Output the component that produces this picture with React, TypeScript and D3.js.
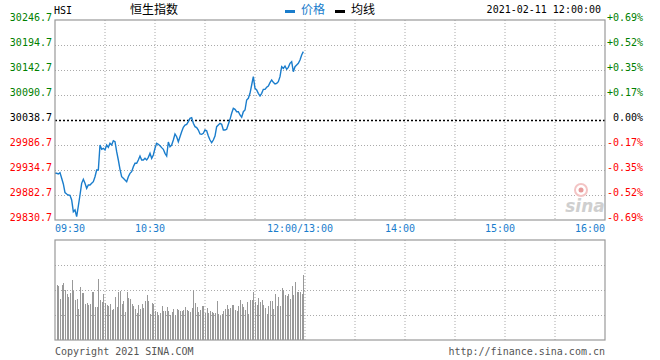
import React, { useEffect, useRef } from 'react'
import * as d3 from 'd3'

// HSI intraday, 2021-02-11, one value per minute from 09:30
const prevClose = 30038.7
const prices = [
    29927.8, 29927.8, 29926.4, 29929.2, 29917.4, 29905.6, 29887.6, 29884.8, 29882.7, 29882.0,
    29872.3, 29848.0, 29851.5, 29837.6, 29859.8, 29882.7, 29907.0, 29915.3, 29907.0, 29896.6,
    29903.5, 29903.5, 29907.0, 29910.4, 29920.8, 29934.7, 29934.7, 29986.7, 29977.7, 29979.8,
    29976.3, 29986.7, 29981.9, 29990.2, 29986.7, 29995.7, 29993.6, 29972.8, 29955.5, 29936.1,
    29920.8, 29917.4, 29913.9, 29910.4, 29920.8, 29927.8, 29931.2, 29941.6, 29948.6, 29948.6,
    29955.5, 29963.8, 29955.5, 29955.5, 29959.0, 29955.5, 29961.1, 29969.4, 29959.0, 29965.9,
    29979.8, 29990.2, 29988.1, 29985.3, 29981.2, 29977.7, 29969.4, 29963.8, 29992.9, 29983.2,
    29986.7, 29997.1, 30009.6, 30004.0, 29993.6, 30004.0, 30014.4, 30023.5, 30028.3, 30029.7,
    30035.2, 30042.2, 30043.6, 30031.8, 30024.8, 30022.8, 30017.9, 30009.6, 30008.9, 30011.0,
    30017.9, 30016.5, 30005.4, 29997.1, 29991.6, 29997.1, 30005.4, 30024.8, 30028.3, 30031.8,
    30029.7, 30017.9, 30017.9, 30019.3, 30029.7, 30040.1, 30052.6, 30063.0, 30060.9, 30056.0,
    30056.0, 30049.1, 30044.3, 30056.0, 30059.5, 30080.3, 30083.8, 30094.2, 30111.5, 30128.8,
    30104.6, 30101.1, 30094.2, 30088.6, 30094.2, 30102.5, 30102.5, 30106.7, 30109.4, 30116.4,
    30121.9, 30117.0, 30113.6, 30115.0, 30118.4, 30128.8, 30149.6, 30146.2, 30151.0, 30144.1,
    30148.2, 30156.6, 30160.0, 30139.2, 30149.6, 30153.1, 30156.6, 30163.5, 30173.9, 30180.8
]
// volume per minute from 09:31 (relative units, 100 = top of panel)
const volumes = [
    55, 54, 41, 55, 57, 50, 46, 43, 47, 60, 49, 40, 41, 31, 53, 47, 47, 36, 37, 35,
    36, 48, 48, 33, 33, 61, 40, 38, 46, 37, 35, 34, 36, 30, 31, 43, 33, 48, 49, 36,
    39, 28, 48, 42, 41, 36, 34, 31, 27, 35, 31, 36, 32, 39, 45, 39, 26, 37, 36, 29,
    28, 25, 27, 34, 29, 29, 33, 29, 25, 28, 31, 25, 31, 30, 29, 29, 30, 33, 30, 29,
    28, 32, 50, 37, 33, 28, 30, 34, 34, 27, 32, 27, 29, 28, 27, 27, 39, 26, 24, 26,
    29, 31, 35, 31, 32, 35, 35, 30, 29, 34, 40, 36, 33, 30, 38, 26, 40, 40, 48, 38,
    35, 42, 38, 40, 35, 32, 26, 34, 39, 39, 31, 46, 34, 43, 34, 52, 50, 45, 44, 46,
    41, 54, 45, 58, 48, 48, 48, 46, 65
]
const priceTicks = [30246.7, 30194.7, 30142.7, 30090.7, 30038.7, 29986.7, 29934.7, 29882.7, 29830.7]
const timeTicks = [0, 60, 150, 210, 270, 330]
const timeLabels = ['09:30', '10:30', '12:00/13:00', '14:00', '15:00', '16:00']

const mono = '"DejaVu Sans Mono", monospace'
const cjk = '"Noto Sans CJK SC", sans-serif'

export default function App() {
    const ref = useRef<HTMLDivElement>(null)

    useEffect(() => {
        const root = d3.select(ref.current)
        root.selectAll('*').remove()

        const svg = root.append('svg')
            .attr('width', 660)
            .attr('height', 360)
            .style('display', 'block')

        const left = 55, right = 605
        const top = 20, bottom = 220
        const vTop = 240, vBottom = 340

        const x = d3.scaleLinear().domain([0, 330]).range([left, right])
        const y = d3.scaleLinear().domain([29830.7, 30246.7]).range([bottom, top])
        const yv = d3.scaleLinear().domain([0, 100]).range([vBottom, vTop])

        const gridColor = '#aaa'
        const tickColor = (v: number) => v > prevClose + 0.01 ? '#008000' : (v < prevClose - 0.01 ? '#ff0000' : '#000')

        // vertical grid
        const vgrid = d3.range(30, 330, 30)
        for (const [y0, y1] of [[top, bottom], [vTop, vBottom]]) {
            svg.append('g').selectAll('line').data(vgrid).join('line')
                .attr('x1', d => x(d)).attr('x2', d => x(d))
                .attr('y1', y0).attr('y2', y1)
                .attr('stroke', gridColor)
                .attr('stroke-dasharray', '1 2')
        }

        // horizontal grid (price)
        svg.append('g').selectAll('line').data(priceTicks.filter(d => d !== prevClose && d !== priceTicks[0] && d !== priceTicks[8])).join('line')
            .attr('x1', left).attr('x2', right)
            .attr('y1', d => Math.round(y(d)) + 0.5).attr('y2', d => Math.round(y(d)) + 0.5)
            .attr('stroke', gridColor)
            .attr('stroke-dasharray', '1 2')

        svg.append('line')
            .attr('x1', left).attr('x2', right)
            .attr('y1', Math.round(y(prevClose)) + 0.5).attr('y2', Math.round(y(prevClose)) + 0.5)
            .attr('stroke', '#000')
            .attr('stroke-width', 1.3)
            .attr('stroke-dasharray', '2 2')

        // volume grid
        svg.append('g').selectAll('line').data([25, 50, 75]).join('line')
            .attr('x1', left).attr('x2', right)
            .attr('y1', d => yv(d) + 0.5).attr('y2', d => yv(d) + 0.5)
            .attr('stroke', gridColor)
            .attr('stroke-dasharray', '1 2')

        // sina watermark
        const wm = svg.append('g').attr('transform', 'translate(585,200)')
        wm.append('circle').attr('cx', -4).attr('cy', -10).attr('r', 6).attr('fill', 'none')
            .attr('stroke', '#f3c4c4').attr('stroke-width', 2)
        wm.append('circle').attr('cx', -4).attr('cy', -10).attr('r', 2.5).attr('fill', '#e89a9a')
        wm.append('text').attr('x', 0).attr('y', 12).attr('text-anchor', 'middle')
            .style('font', 'italic bold 17px "DejaVu Sans", sans-serif')
            .attr('fill', '#cfcfcf').text('sina')

        // volume bars
        svg.append('g').selectAll('rect').data(volumes).join('rect')
            .attr('x', (d, i) => Math.round(x(i + 1)))
            .attr('width', 1)
            .attr('y', d => Math.round(yv(d)))
            .attr('height', d => vBottom - Math.round(yv(d)))
            .attr('fill', '#999')
            .attr('shape-rendering', 'crispEdges')

        // price line
        const line = d3.line<number>()
            .x((d, i) => x(i))
            .y(d => y(d))
        svg.append('path')
            .datum(prices)
            .attr('d', line)
            .attr('fill', 'none')
            .attr('stroke', '#1a7dcc')
            .attr('stroke-width', 1.4)

        // frames
        for (const [y0, y1] of [[top, bottom], [vTop, vBottom]]) {
            svg.append('rect')
                .attr('x', left).attr('y', y0)
                .attr('width', right - left).attr('height', y1 - y0)
                .attr('fill', 'none')
                .attr('stroke', '#999')
                .attr('stroke-width', 1.2)
        }

        // price labels
        svg.append('g').selectAll('text').data(priceTicks).join('text')
            .attr('x', 52)
            .attr('y', d => y(d) - 3)
            .attr('dy', '0.35em')
            .attr('text-anchor', 'end')
            .attr('fill', tickColor)
            .style('font', '10px ' + mono)
            .text(d => d.toFixed(1))

        svg.append('g').selectAll('text').data(priceTicks).join('text')
            .attr('x', 607)
            .attr('y', d => y(d) - 3)
            .attr('dy', '0.35em')
            .attr('fill', tickColor)
            .style('font', '10px ' + mono)
            .style('white-space', 'pre')
            .text(d => {
                const p = (d - prevClose) / prevClose * 100
                const s = Math.abs(p).toFixed(2) + '%'
                if (Math.abs(p) < 0.001) return '\u00a0' + s
                return (p > 0 ? '+' : '-') + s
            })

        // time labels
        svg.append('g').selectAll('text').data(timeTicks).join('text')
            .attr('x', (d, i) => i === 0 ? left : (i === timeTicks.length - 1 ? right : x(d) - 5))
            .attr('y', 228)
            .attr('dy', '0.35em')
            .attr('text-anchor', (d, i) => i === 0 ? 'start' : (i === timeTicks.length - 1 ? 'end' : 'middle'))
            .attr('fill', '#1a7dcc')
            .style('font', '10px ' + mono)
            .text((d, i) => timeLabels[i])

        // header
        svg.append('text').attr('x', 54).attr('y', 10).attr('dy', '0.35em')
            .style('font', '10px ' + mono).text('HSI')
        svg.append('text').attr('x', 154).attr('y', 10).attr('dy', '0.35em')
            .attr('text-anchor', 'middle')
            .style('font', '12px ' + cjk).text('恒生指数')
        svg.append('rect').attr('x', 285).attr('y', 10).attr('width', 10).attr('height', 3).attr('fill', '#1a7dcc')
        svg.append('text').attr('x', 301).attr('y', 10).attr('dy', '0.35em')
            .attr('fill', '#1a7dcc')
            .style('font', '12px ' + cjk).text('价格')
        svg.append('rect').attr('x', 335).attr('y', 10).attr('width', 10).attr('height', 3).attr('fill', '#000')
        svg.append('text').attr('x', 351).attr('y', 10).attr('dy', '0.35em')
            .style('font', '12px ' + cjk).text('均线')
        svg.append('text').attr('x', 601).attr('y', 9).attr('dy', '0.35em')
            .attr('text-anchor', 'end')
            .style('font', '10px ' + mono).text('2021-02-11 12:00:00')

        // footer
        svg.append('text').attr('x', 55).attr('y', 351).attr('dy', '0.35em')
            .attr('fill', '#555')
            .style('font', '10px ' + mono).text('Copyright 2021 SINA.COM')
        svg.append('text').attr('x', 605).attr('y', 351).attr('dy', '0.35em')
            .attr('text-anchor', 'end')
            .attr('fill', '#555')
            .style('font', '10px ' + mono).text('http://finance.sina.com.cn')
    }, [])

    return (
        <div ref={ref} style={{ position: 'absolute', left: 0, top: 0 }} />
    )
}
